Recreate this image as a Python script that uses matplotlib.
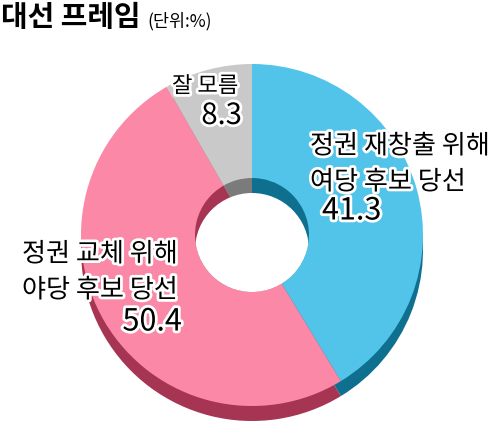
import matplotlib.pyplot as plt
import matplotlib.patheffects as pe
from matplotlib.patches import Circle

plt.rcParams['font.family'] = ['Noto Sans CJK KR', 'DejaVu Sans']

title = '대선 프레임'
unit = '(단위:%)'
labels = ['정권 재창출 위해\n여당 후보 당선', '정권 교체 위해\n야당 후보 당선', '잘 모름']
values = [41.3, 50.4, 8.3]
top_colors = ['#52C4EA', '#FB88A6', '#C9C9C9']
side_colors = ['#0F6F8F', '#A63553', '#7B7B7B']

W, H = 500, 438
fig = plt.figure(figsize=(5, 4.38), dpi=100)
ax = fig.add_axes([0, 0, 1, 1])

cx, cy = 252, H - 235
R, r = 171, 57
depth = 15
wp = dict(linewidth=0)

# side of the ring (shifted down), top face, then inner wall
ax.pie(values, colors=side_colors, startangle=90, counterclock=False,
       radius=R, center=(cx, cy - depth), wedgeprops=wp)
ax.pie(values, colors=top_colors, startangle=90, counterclock=False,
       radius=R, center=(cx, cy), wedgeprops=wp)
ax.pie(values, colors=side_colors, startangle=90, counterclock=False,
       radius=r, center=(cx, cy), wedgeprops=wp)
hole = Circle((cx, cy - depth), r, facecolor='white', edgecolor='none', zorder=5)
ax.add_patch(hole)
hole.set_clip_path(Circle((cx, cy), r, transform=ax.transData))

ax.set_xlim(0, W)
ax.set_ylim(0, H)
ax.set_aspect('equal')
ax.axis('off')

stroke = [pe.withStroke(linewidth=4, foreground='white')]

# label lines: (x, first line y from top, align)
label_pos = [(310, 146, 'left'), (22, 254, 'left'), (172, 86, 'left')]
num_pos = [(322, 211, 'left'), (182, 322, 'right'), (242, 116, 'right')]
label_size = [18.8, 18.8, 16]
num_size = [22, 22, 21]

for i, lab in enumerate(labels):
    x, y, ha = label_pos[i]
    for j, line in enumerate(lab.split('\n')):
        ax.text(x, H - (y + 36 * j), line, ha=ha, va='center', fontsize=label_size[i],
                fontweight='medium', color='black', path_effects=stroke, zorder=10)
    x, y, ha = num_pos[i]
    ax.text(x, H - y, f'{values[i]}', ha=ha, va='center', fontsize=num_size[i],
            fontweight='medium', color='black', path_effects=stroke, zorder=10)

ax.text(1, H - 17, title, ha='left', va='center', fontsize=20.8, fontweight='bold')
ax.text(147, H - 21, unit, ha='left', va='center', fontsize=12.5)

fig.savefig('out.png', dpi=100)
